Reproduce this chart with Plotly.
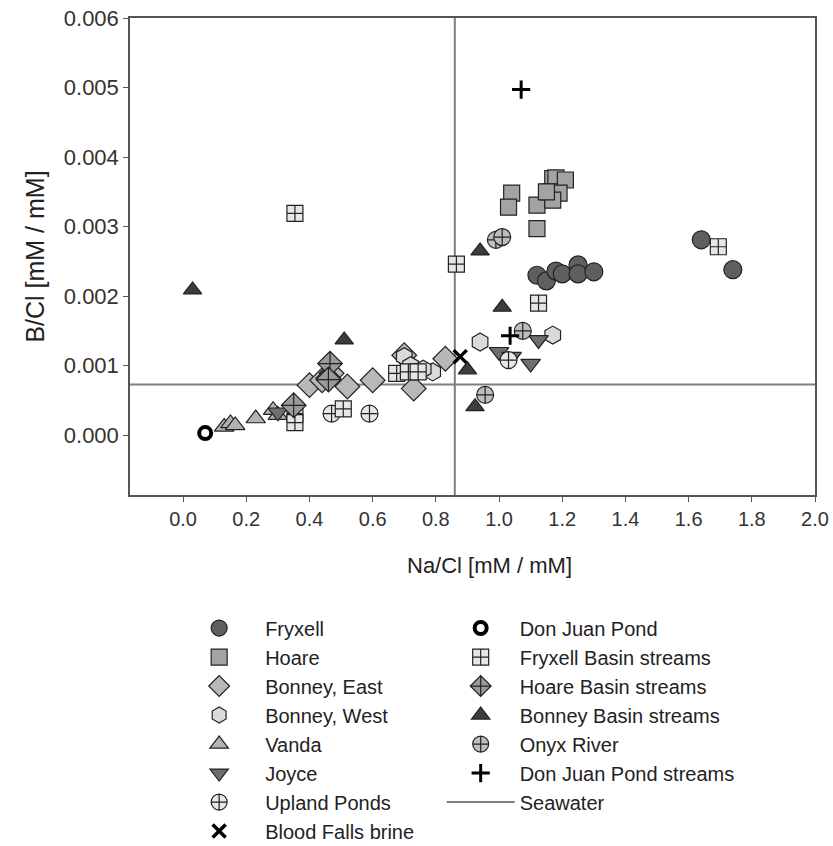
import plotly.graph_objects as go

# ---------------- data ----------------
fryxell_x = [1.12, 1.15, 1.18, 1.20, 1.25, 1.25, 1.30, 1.64, 1.74]
fryxell_y = [0.00230, 0.00222, 0.00236, 0.00232, 0.00245, 0.00232, 0.00235, 0.00281, 0.00238]

hoare_x = [1.04, 1.03, 1.12, 1.12, 1.17, 1.18, 1.21, 1.16, 1.19, 1.17, 1.15]
hoare_y = [0.00348, 0.00328, 0.00331, 0.00297, 0.00369, 0.00370, 0.00367, 0.00350, 0.00348, 0.00338, 0.00350]

bonney_e_x = [0.40, 0.44, 0.47, 0.52, 0.60, 0.70, 0.73, 0.83, 0.46]
bonney_e_y = [0.00072, 0.00079, 0.00089, 0.00070, 0.00079, 0.00115, 0.00067, 0.00110, 0.00082]

bonney_w_x = [0.70, 0.79, 0.94, 1.17, 0.72, 0.76]
bonney_w_y = [0.00113, 0.00091, 0.00134, 0.00144, 0.00100, 0.00095]

vanda_x = [0.13, 0.15, 0.165, 0.23, 0.285, 0.30]
vanda_y = [0.00012, 0.00017, 0.00014, 0.00024, 0.00036, 0.00029]

joyce_x = [1.00, 1.04, 1.10, 1.125, 0.30]
joyce_y = [0.00120, 0.00113, 0.00103, 0.00137, 0.00033]

upland_x = [0.47, 0.59, 1.03]
upland_y = [0.00031, 0.00031, 0.00108]

blood_x = [0.877]
blood_y = [0.00113]

djp_x = [0.07]
djp_y = [0.00003]

fbs_x = [0.865, 1.125, 0.354, 1.694, 0.676, 0.713, 0.744, 0.507, 0.354, 0.354]
fbs_y = [0.00246, 0.00190, 0.00319, 0.00271, 0.00089, 0.00091, 0.00091, 0.00038, 0.00031, 0.00018]

hbs_x = [0.465, 0.35, 0.46]
hbs_y = [0.00103, 0.00043, 0.00080]

bbs_x = [0.03, 0.51, 0.94, 1.01, 0.924, 0.90]
bbs_y = [0.00209, 0.00137, 0.00265, 0.00184, 0.00041, 0.00094]

onyx_x = [0.99, 1.01, 1.075, 0.956]
onyx_y = [0.00281, 0.00285, 0.00150, 0.00058]

djps_x = [1.07, 1.035]
djps_y = [0.00497, 0.00143]

seawater_na_cl = 0.86
seawater_b_cl = 0.00073

x_ticks = [0.0, 0.2, 0.4, 0.6, 0.8, 1.0, 1.2, 1.4, 1.6, 1.8, 2.0]
y_ticks = [0.000, 0.001, 0.002, 0.003, 0.004, 0.005, 0.006]
x_range = [-0.168, 2.0]
y_range = [-0.00086, 0.006]

FONT = "Liberation Sans, Arial, sans-serif"
fig = go.Figure()

# seawater reference lines (drawn first, under the markers; listed last in legend)
fig.add_trace(go.Scatter(
    x=[seawater_na_cl, seawater_na_cl, None, x_range[0], x_range[1]],
    y=[y_range[0], y_range[1], None, seawater_b_cl, seawater_b_cl],
    mode="lines", name="Seawater", legend="legend2", legendgroup="Seawater",
    legendrank=2000, line=dict(color="#7f7f7f", width=2)))

def add(name, xs, ys, symbol, fill, size=15, lw=1.2, lc="#222222", legend="legend", rank=1000):
    fig.add_trace(go.Scatter(
        x=xs, y=ys, mode="markers", name=name, legend=legend, legendgroup=name,
        legendrank=rank,
        marker=dict(symbol=symbol, size=size, color=fill,
                    line=dict(color=lc, width=lw))))

add("Fryxell", fryxell_x, fryxell_y, "circle", "#5f5f5f", size=18)
add("Hoare", hoare_x, hoare_y, "square", "#a3a3a3", size=16)
add("Bonney, East", bonney_e_x, bonney_e_y, "diamond", "#b8b8b8", size=19)
add("Bonney, West", bonney_w_x, bonney_w_y, "hexagon", "#dadada", size=18)
add("Vanda", vanda_x, vanda_y, "triangle-up", "#b3b3b3", size=17)
add("Joyce", joyce_x, joyce_y, "triangle-down", "#6e6e6e", size=17)
add("Upland Ponds", upland_x, upland_y, "circle-cross", "#e8e8e8", size=17)
add("Blood Falls brine", blood_x, blood_y, "x-thin", "#000000", size=13, lw=3.5, lc="#000000")

add("Don Juan Pond", djp_x, djp_y, "circle-open", "#000000", size=12, lw=4, lc="#000000", legend="legend2", rank=1001)
add("Fryxell Basin streams", fbs_x, fbs_y, "square-cross", "#e6e6e6", size=16, legend="legend2", rank=1002)
add("Hoare Basin streams", hbs_x, hbs_y, "diamond-cross", "#9a9a9a", size=19, legend="legend2", rank=1003)
add("Bonney Basin streams", bbs_x, bbs_y, "triangle-up", "#3c3c3c", size=16, legend="legend2", rank=1004)
add("Onyx River", onyx_x, onyx_y, "circle-cross", "#bdbdbd", size=17, legend="legend2", rank=1005)
add("Don Juan Pond streams", djps_x, djps_y, "cross-thin", "#000000", size=13, lw=3, lc="#000000", legend="legend2", rank=1006)

axis_common = dict(showgrid=False, zeroline=False, showline=True, linecolor="#555555",
                   linewidth=1.5, mirror=True, ticks="outside", ticklen=5,
                   tickcolor="#555555", tickwidth=1.2)

leg_font = dict(family=FONT, size=20, color="#222222")

fig.update_layout(
    width=833, height=846,
    margin=dict(l=130, r=18, t=18, b=351, autoexpand=False),
    paper_bgcolor="white", plot_bgcolor="white",
    font=dict(family=FONT, size=20, color="#222222"),
    xaxis=dict(range=x_range, tickvals=x_ticks, tickformat=".1f",
               tickfont=dict(family=FONT, size=20, color="#333333"),
               **axis_common),
    yaxis=dict(range=y_range, tickvals=y_ticks, tickformat=".3f",
               tickfont=dict(family=FONT, size=22, color="#333333"),
               title=dict(text="B/Cl [mM / mM]", font=dict(family=FONT, size=25, color="#222222"),
                          standoff=12),
               **axis_common),
    annotations=[dict(text="Na/Cl [mM / mM]", xref="paper", yref="paper",
                      x=0.5255, y=-0.1468, xanchor="center", yanchor="middle",
                      showarrow=False, font=dict(family=FONT, size=22, color="#222222"))],
    legend=dict(x=0.063, y=-0.238, xanchor="left", yanchor="top", orientation="v",
                traceorder="grouped", tracegroupgap=0, itemwidth=82,
                font=leg_font, bgcolor="rgba(0,0,0,0)"),
    legend2=dict(x=0.455, y=-0.238, xanchor="left", yanchor="top", orientation="v",
                 traceorder="grouped", tracegroupgap=0, itemwidth=68,
                 font=leg_font, bgcolor="rgba(0,0,0,0)"),
)

fig.write_html("out.html")
